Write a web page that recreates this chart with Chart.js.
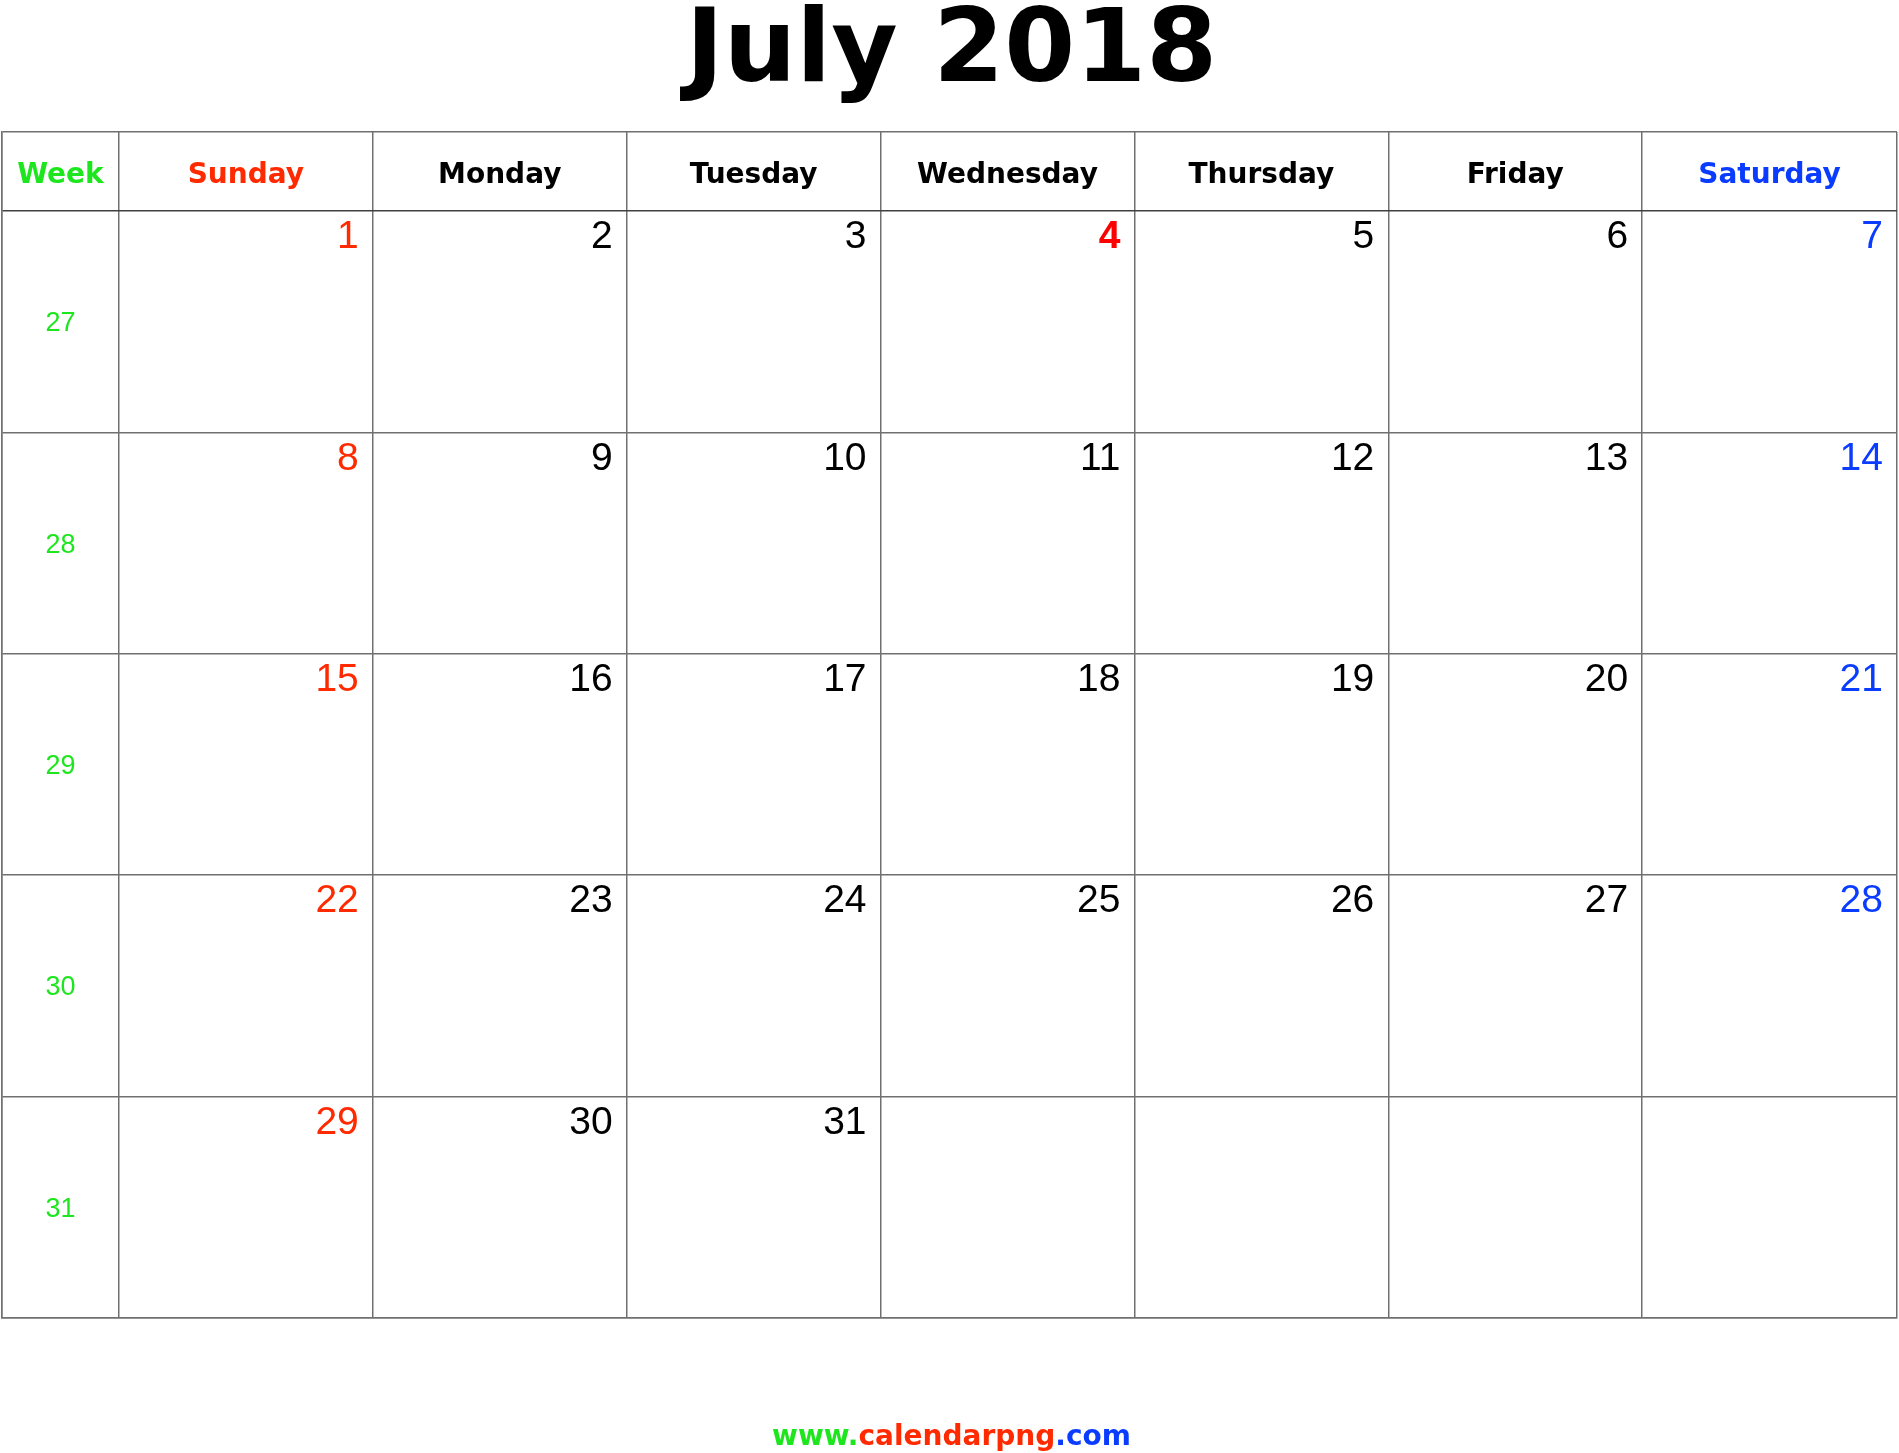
<!DOCTYPE html>
<html>
<head>
<meta charset="utf-8">
<script src="https://cdn.jsdelivr.net/npm/chart.js@4"></script>
<style>
  html, body { margin: 0; padding: 0; background: #fff; }
  #wrap { width: 1899px; height: 1453px; }
</style>
</head>
<body>
<div id="wrap"><canvas id="cal"></canvas></div>
<script>
const title = 'July 2018';
const dayNames = ['Sunday', 'Monday', 'Tuesday', 'Wednesday', 'Thursday', 'Friday', 'Saturday'];
const weekNumbers = [27, 28, 29, 30, 31];
const firstWeekday = 0; // July 1st 2018 is a Sunday
const daysInMonth = 31;
const holidays = [4];
const footerParts = [['www.', '#1ee61e'], ['calendarpng', '#ff2a00'], ['.com', '#0a3cff']];

// column boundaries in x units (week col + 7 day cols), row boundaries in y units
const colEdges = [0, 117, 371, 625, 879, 1133, 1387, 1641, 1896];
const rowEdges = [0, 79, 300.6, 522.2, 743.8, 965.4, 1187];

const GREEN = '#1ee61e', RED = '#ff2a00', BLUE = '#0a3cff';

// one point per labelled cell
const cells = [];
cells.push({ x: 0, y: 0, text: 'Week', kind: 'head', color: GREEN });
dayNames.forEach((d, i) => cells.push({
    x: i + 1, y: 0, text: d, kind: 'head',
    color: i === 0 ? RED : (i === 6 ? BLUE : '#000')
}));
weekNumbers.forEach((w, r) => cells.push({ x: 0, y: r + 1, text: String(w), kind: 'week', color: GREEN }));
for (let d = 1; d <= daysInMonth; d++) {
    const idx = firstWeekday + d - 1;
    const col = idx % 7, row = Math.floor(idx / 7);
    let color = '#000';
    if (col === 0) color = RED;
    if (col === 6) color = BLUE;
    const hol = holidays.includes(d);
    if (hol) color = '#ff0000';
    cells.push({ x: col + 1, y: row + 1, text: String(d), kind: hol ? 'holiday' : 'date', color: color });
}

const cellPlugin = {
    id: 'cellText',
    afterDatasetsDraw(chart) {
        const ctx = chart.ctx;
        const xs = chart.scales.x, ys = chart.scales.y;
        ctx.save();
        cells.forEach(c => {
            const left = xs.getPixelForValue(colEdges[c.x]);
            const right = xs.getPixelForValue(colEdges[c.x + 1]);
            const top = ys.getPixelForValue(rowEdges[c.y]);
            const bottom = ys.getPixelForValue(rowEdges[c.y + 1]);
            ctx.fillStyle = c.color;
            if (c.kind === 'head') {
                ctx.font = 'bold 28px "DejaVu Sans"';
                ctx.textAlign = 'center';
                ctx.textBaseline = 'middle';
                ctx.fillText(c.text, (left + right) / 2, (top + bottom) / 2 + 4);
            } else if (c.kind === 'week') {
                ctx.font = '27px "Liberation Sans"';
                ctx.textAlign = 'center';
                ctx.textBaseline = 'middle';
                ctx.fillText(c.text, (left + right) / 2, (top + bottom) / 2 + 2);
            } else {
                ctx.font = (c.kind === 'holiday' ? 'bold ' : '') + '39px "Liberation Sans"';
                ctx.textAlign = 'right';
                ctx.textBaseline = 'top';
                ctx.fillText(c.text, right - 14, top + 7);
            }
        });
        // title
        ctx.fillStyle = '#000';
        ctx.font = 'bold 102px "DejaVu Sans"';
        ctx.textAlign = 'center';
        ctx.textBaseline = 'middle';
        ctx.fillText(title, chart.width / 2 + 2, 54);
        // footer
        ctx.font = 'bold 28px "DejaVu Sans"';
        ctx.textAlign = 'left';
        const total = footerParts.reduce((s, p) => s + ctx.measureText(p[0]).width, 0);
        let fx = chart.width / 2 - total / 2 + 2;
        footerParts.forEach(p => {
            ctx.fillStyle = p[1];
            ctx.fillText(p[0], fx, 1438);
            fx += ctx.measureText(p[0]).width;
        });
        ctx.restore();
    }
};

new Chart(document.getElementById('cal'), {
    type: 'scatter',
    data: {
        datasets: [{
            data: cells.map(c => ({ x: (colEdges[c.x] + colEdges[c.x + 1]) / 2, y: (rowEdges[c.y] + rowEdges[c.y + 1]) / 2 })),
            pointRadius: 0
        }]
    },
    options: {
        responsive: true,
        maintainAspectRatio: false,
        animation: false,
        layout: { padding: { left: 2, right: 2, top: 132, bottom: 135 } },
        plugins: { legend: { display: false }, tooltip: { enabled: false } },
        scales: {
            x: {
                type: 'linear', min: 0, max: colEdges[colEdges.length - 1],
                afterBuildTicks: s => { s.ticks = colEdges.map(v => ({ value: v })); },
                ticks: { display: false },
                grid: { color: '#707070', lineWidth: 1.5, drawTicks: false },
                border: { color: '#707070', width: 1.5 }
            },
            y: {
                type: 'linear', reverse: true, min: 0, max: rowEdges[rowEdges.length - 1],
                afterBuildTicks: s => { s.ticks = rowEdges.map(v => ({ value: v })); },
                ticks: { display: false },
                grid: { color: ctx => ctx.index === 1 ? '#404040' : '#707070', lineWidth: 1.5, drawTicks: false },
                border: { color: '#707070', width: 1.5 }
            }
        }
    },
    plugins: [cellPlugin]
});
</script>
</body>
</html>
